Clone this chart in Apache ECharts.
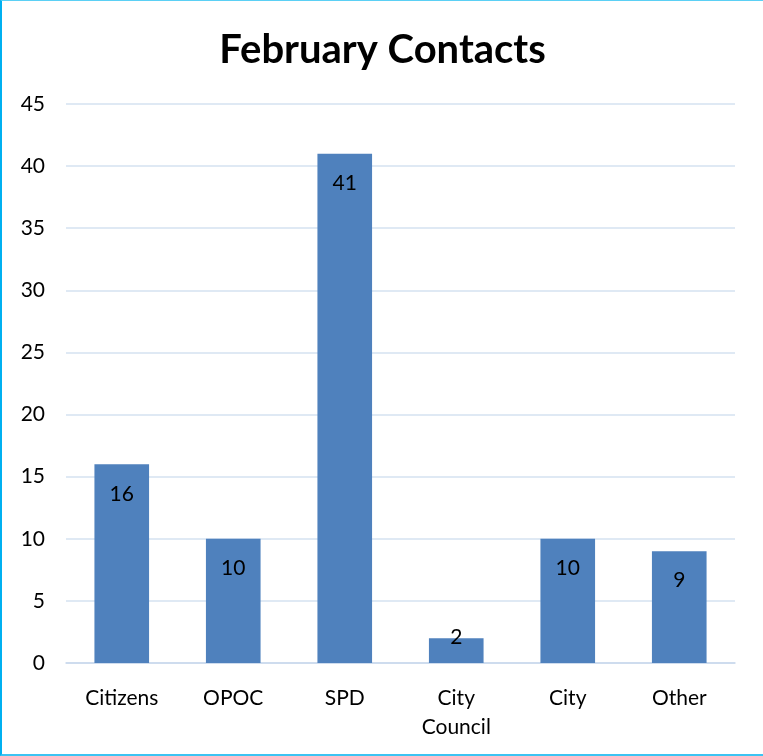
<!DOCTYPE html>
<html>
<head>
<meta charset="utf-8">
<script src="https://cdn.jsdelivr.net/npm/echarts@6/dist/echarts.min.js"></script>
<style>
  html, body { margin: 0; padding: 0; background: #fff; }
  #chart {
    position: absolute; left: 0; top: 0;
    width: 761px; height: 753px;
    border-left: 2px solid #00B0F0;
    border-top: 1px solid #5BD0F5;
    border-bottom: 2px solid #3CC3F2;
  }
</style>
</head>
<body>
<div id="chart"></div>
<script>
var categories = ['Citizens', 'OPOC', 'SPD', 'City\nCouncil', 'City', 'Other'];
var contacts = [16, 10, 41, 2, 10, 9];
var yTicks = [0, 5, 10, 15, 20, 25, 30, 35, 40, 45];

var myChart = echarts.init(document.getElementById('chart'));
var fontName = 'Lato, "Open Sans", sans-serif';

// short bars: label sits on top edge like Excel does
var barData = contacts.map(function (v) {
    if (v < 5) {
        return { value: v, label: { position: 'insideTop', distance: -11 } };
    }
    return v;
});

var options = {
    animation: false,
    title: {
        text: 'February Contacts',
        left: 'center',
        top: 24,
        textStyle: { fontFamily: fontName, fontSize: 40, fontWeight: 'bold', color: '#000' }
    },
    grid: { left: 64, right: 28, top: 103, bottom: 91 },
    xAxis: {
        type: 'category',
        data: categories,
        axisLine: { lineStyle: { color: '#C9D8EC', width: 1.5 } },
        axisTick: { show: false },
        axisLabel: { color: '#000', fontFamily: fontName, fontSize: 21, margin: 21, lineHeight: 29 }
    },
    yAxis: {
        type: 'value',
        min: yTicks[0],
        max: yTicks[yTicks.length - 1],
        interval: 5,
        axisLine: { show: false },
        axisTick: { show: false },
        axisLabel: { color: '#000', fontFamily: fontName, fontSize: 21, margin: 21 },
        splitLine: { lineStyle: { color: '#D5E2F1', width: 1.5 } }
    },
    series: [{
        name: 'Contacts',
        type: 'bar',
        barWidth: '49%',
        data: barData,
        itemStyle: { color: '#4F81BD' },
        label: {
            show: true,
            position: 'insideTop',
            distance: 19,
            color: '#000',
            fontFamily: fontName,
            fontSize: 21
        }
    }]
};
myChart.setOption(options);
</script>
</body>
</html>
